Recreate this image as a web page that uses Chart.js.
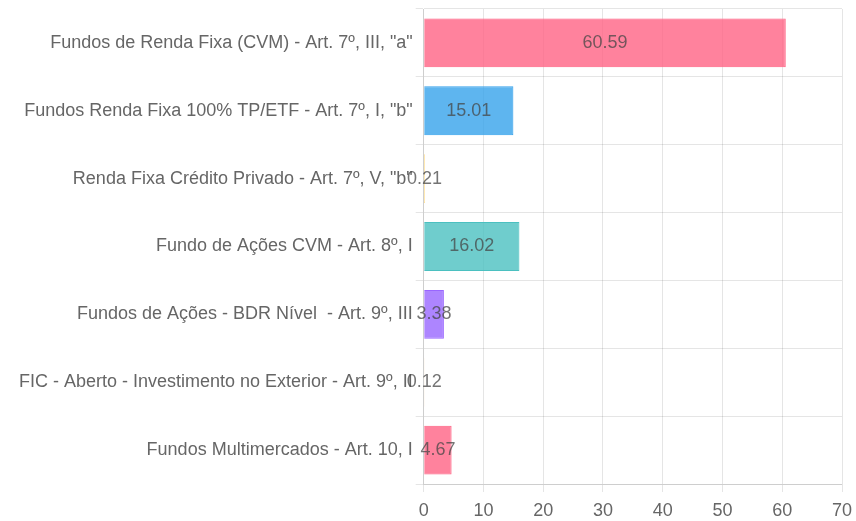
<!DOCTYPE html>
<html>
<head>
<meta charset="utf-8">
<script src="https://cdn.jsdelivr.net/npm/chart.js@4/dist/chart.umd.min.js"></script>
<style>
  html, body { margin: 0; padding: 0; background: #fff; }
  #wrap { width: 856px; height: 521px; position: relative; }
</style>
</head>
<body>
<div id="wrap"><canvas id="segmentChart"></canvas></div>
<script>
var categories = [
    'Fundos de Renda Fixa (CVM) - Art. 7º, III, "a"',
    'Fundos Renda Fixa 100% TP/ETF - Art. 7º, I, "b"',
    'Renda Fixa Crédito Privado - Art. 7º, V, "b"',
    'Fundo de Ações CVM - Art. 8º, I',
    'Fundos de Ações - BDR Nível  - Art. 9º, III',
    'FIC - Aberto - Investimento no Exterior - Art. 9º, II',
    'Fundos Multimercados - Art. 10, I'
];
var percentages = [60.59, 15.01, 0.21, 16.02, 3.38, 0.12, 4.67];
var xTicks = [0, 10, 20, 30, 40, 50, 60, 70];

var fillColors = [
    'rgba(255, 99, 132, 0.8)',
    'rgba(54, 162, 235, 0.8)',
    'rgba(255, 205, 86, 0.8)',
    'rgba(75, 192, 192, 0.8)',
    'rgba(153, 102, 255, 0.8)',
    'rgba(255, 159, 64, 0.8)',
    'rgba(255, 99, 132, 0.8)'
];
var lineColors = [
    'rgba(255, 99, 132, 1)',
    'rgba(54, 162, 235, 1)',
    'rgba(255, 205, 86, 1)',
    'rgba(75, 192, 192, 1)',
    'rgba(153, 102, 255, 1)',
    'rgba(255, 159, 64, 1)',
    'rgba(255, 99, 132, 1)'
];

// value written in the middle of each bar
var barValues = {
    id: 'barValues',
    afterDatasetsDraw: function(chart) {
        var ctx = chart.ctx;
        ctx.save();
        ctx.font = '18px "Liberation Sans", Arial, sans-serif';
        ctx.fillStyle = 'rgba(70, 70, 70, 0.75)';
        ctx.textAlign = 'center';
        ctx.textBaseline = 'middle';
        chart.getDatasetMeta(0).data.forEach(function(bar, i) {
            var p = bar.getCenterPoint();
            ctx.fillText(percentages[i].toFixed(2), p.x, p.y);
        });
        ctx.restore();
    }
};

document.addEventListener('DOMContentLoaded', function() {
    Chart.defaults.font.family = '"Liberation Sans", Arial, sans-serif';
    Chart.defaults.font.size = 18;
    Chart.defaults.color = '#666';
    var ctx = document.getElementById('segmentChart').getContext('2d');
    new Chart(ctx, {
        type: 'bar',
        data: {
            labels: categories,
            datasets: [{
                label: '%',
                data: percentages,
                backgroundColor: fillColors,
                borderColor: lineColors,
                borderWidth: 1
            }]
        },
        options: {
            indexAxis: 'y',
            responsive: true,
            maintainAspectRatio: false,
            animation: false,
            layout: { padding: { top: 0, left: 16, right: 14, bottom: 0 } },
            plugins: {
                legend: { display: false },
                tooltip: { enabled: false }
            },
            scales: {
                x: {
                    min: xTicks[0],
                    max: xTicks[xTicks.length - 1],
                    ticks: { padding: 8 },
                    afterBuildTicks: function(axis) {
                        axis.ticks = xTicks.map(function(v) { return { value: v }; });
                    },
                    afterFit: function(axis) {
                        axis.height = 37;
                        axis.paddingRight = 0;
                    }
                },
                y: {
                    grid: { offset: true },
                    afterFit: function(axis) {
                        axis.paddingTop = 9;
                        axis.paddingBottom = 0;
                    }
                }
            }
        },
        plugins: [barValues]
    });
});
</script>
</body>
</html>
